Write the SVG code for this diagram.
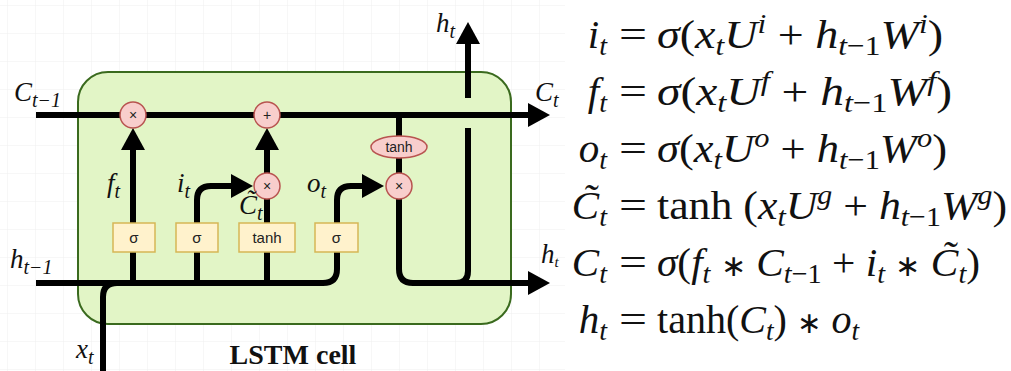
<svg xmlns="http://www.w3.org/2000/svg" width="1011" height="371" viewBox="0 0 1011 371">
<style>
.ln{fill:none;stroke:#000;stroke-width:6;stroke-linejoin:round}
.op{fill:#f8cecc;stroke:#b85450;stroke-width:1.5}
.gate{fill:#fff2cc;stroke:#d6b656;stroke-width:1.5}
.sm{font-family:"Liberation Sans",Arial,sans-serif;font-size:14px;fill:#222;text-anchor:middle}
.gt{font-family:"Liberation Sans",Arial,sans-serif;font-size:15px;fill:#222;text-anchor:middle}
.lab{font-family:"Liberation Serif","Times New Roman",serif;font-style:italic;font-size:27px;fill:#111}
.eq{font-family:"Liberation Serif","Times New Roman",serif;font-size:41px;fill:#111}
.i{font-style:italic}
.s{font-size:28px}
.a{font-size:30px}
</style>
<defs>
<pattern id="grid" width="28" height="28" patternUnits="userSpaceOnUse" x="8" y="6">
<path d="M28,0 V28 M0,28 H28" fill="none" stroke="#efefef" stroke-width="1"/>
</pattern>
<marker id="ah" viewBox="0 0 22 24" refX="0" refY="12" markerWidth="22" markerHeight="24" markerUnits="userSpaceOnUse" orient="auto">
<path d="M0,0 L22,12 L0,24 Z" fill="#000"/>
</marker>
</defs>
<rect width="1011" height="371" fill="#fff"/>
<rect width="565" height="371" fill="url(#grid)"/>
<g id="cell">
<rect x="78" y="72" width="433" height="252" rx="30" fill="#e2f5c6" stroke="#3a6a1e" stroke-width="2"/>
</g>
<g id="connectors">
<path class="ln" d="M36,115 H528" marker-end="url(#ah)"/>
<path class="ln" d="M36,283 H323 Q337,283 337,269 V200 Q337,186 351,186 H362" marker-end="url(#ah)"/>
<path class="ln" d="M103,371 V297 Q103,283 117,283"/>
<path class="ln" d="M133,283 V150" marker-end="url(#ah)"/>
<path class="ln" d="M197,283 V200 Q197,186 211,186 H231" marker-end="url(#ah)"/>
<path class="ln" d="M267,283 V199"/>
<path class="ln" d="M267,173 V150" marker-end="url(#ah)"/>
<path class="ln" d="M399,115 V136"/>
<path class="ln" d="M399,158 V174"/>
<path class="ln" d="M399,199 V269 Q399,283 413,283 H528" marker-end="url(#ah)"/>
<path class="ln" d="M456,283 Q468,283 468,271 V128"/>
<path class="ln" d="M468,98 V44" marker-end="url(#ah)"/>
</g>
<g id="forget-mult"><circle class="op" cx="133" cy="115" r="13"/><text class="sm" x="133" y="120">×</text></g>
<g id="add"><circle class="op" cx="267" cy="115" r="13"/><text class="sm" x="267" y="120">+</text></g>
<g id="input-mult"><circle class="op" cx="267" cy="186" r="13"/><text class="sm" x="267" y="191">×</text></g>
<g id="output-mult"><circle class="op" cx="399" cy="186" r="13"/><text class="sm" x="399" y="191">×</text></g>
<g id="cell-tanh"><ellipse class="op" cx="399" cy="147" rx="28" ry="11"/><text class="sm" x="399" y="152">tanh</text></g>
<g id="forget-gate"><rect class="gate" x="113" y="223" width="42" height="29"/><text class="gt" x="134" y="243">σ</text></g>
<g id="input-gate"><rect class="gate" x="176" y="223" width="42" height="29"/><text class="gt" x="197" y="243">σ</text></g>
<g id="candidate"><rect class="gate" x="239" y="223" width="56" height="29"/><text class="gt" x="267" y="243">tanh</text></g>
<g id="output-gate"><rect class="gate" x="315" y="223" width="43" height="29"/><text class="gt" x="336.5" y="243">σ</text></g>
<g id="labels">
<text class="lab" x="14" y="101">C<tspan font-size="20" dy="6">t−1</tspan></text>
<text class="lab" x="535" y="101">C<tspan font-size="20" dy="6">t</tspan></text>
<text class="lab" x="10" y="268">h<tspan font-size="20" dy="6">t−1</tspan></text>
<text class="lab" x="541" y="263" font-size="20">h<tspan font-size="15" dy="4">t</tspan></text>
<text class="lab" x="436" y="32">h<tspan font-size="20" dy="6">t</tspan></text>
<text class="lab" x="76" y="358">x<tspan font-size="20" dy="6">t</tspan></text>
<text class="lab" x="107" y="192">f<tspan font-size="20" dy="6">t</tspan></text>
<text class="lab" x="177" y="192">i<tspan font-size="20" dy="6">t</tspan></text>
<text class="lab" x="307" y="192">o<tspan font-size="20" dy="6">t</tspan></text>
<text class="lab" x="239" y="214">C̃<tspan font-size="20" dy="6">t</tspan></text>
<text x="293" y="364" font-family="Liberation Serif,Times New Roman,serif" font-weight="bold" font-size="28" text-anchor="middle" fill="#111">LSTM cell</text>
</g>
<g id="equations">
<rect x="566" y="0" width="445" height="371" fill="#fff"/>
<text class="eq" x="607" y="48" text-anchor="end"><tspan class="i">i</tspan><tspan class="i s" dy="7">t</tspan></text>
<text class="eq" x="619" y="48" textLength="28" lengthAdjust="spacingAndGlyphs">=</text>
<text class="eq" x="657" y="48" textLength="286" lengthAdjust="spacingAndGlyphs"><tspan class="i">σ</tspan>(<tspan class="i">x</tspan><tspan class="i s" dy="7">t</tspan><tspan class="i" dy="-7">U</tspan><tspan class="i s" dy="-15">i</tspan><tspan dy="15"> + </tspan><tspan class="i">h</tspan><tspan class="s" dy="7"><tspan class="i">t</tspan>−1</tspan><tspan class="i" dy="-7">W</tspan><tspan class="i s" dy="-15">i</tspan><tspan dy="15">)</tspan></text>

<text class="eq" x="607" y="105" text-anchor="end"><tspan class="i">f</tspan><tspan class="i s" dy="7">t</tspan></text>
<text class="eq" x="619" y="105" textLength="28" lengthAdjust="spacingAndGlyphs">=</text>
<text class="eq" x="657" y="105" textLength="295" lengthAdjust="spacingAndGlyphs"><tspan class="i">σ</tspan>(<tspan class="i">x</tspan><tspan class="i s" dy="7">t</tspan><tspan class="i" dy="-7">U</tspan><tspan class="i s" dy="-15">f</tspan><tspan dy="15"> + </tspan><tspan class="i">h</tspan><tspan class="s" dy="7"><tspan class="i">t</tspan>−1</tspan><tspan class="i" dy="-7">W</tspan><tspan class="i s" dy="-15">f</tspan><tspan dy="15">)</tspan></text>

<text class="eq" x="607" y="162" text-anchor="end"><tspan class="i">o</tspan><tspan class="i s" dy="7">t</tspan></text>
<text class="eq" x="619" y="162" textLength="28" lengthAdjust="spacingAndGlyphs">=</text>
<text class="eq" x="657" y="162" textLength="290" lengthAdjust="spacingAndGlyphs"><tspan class="i">σ</tspan>(<tspan class="i">x</tspan><tspan class="i s" dy="7">t</tspan><tspan class="i" dy="-7">U</tspan><tspan class="i s" dy="-15">o</tspan><tspan dy="15"> + </tspan><tspan class="i">h</tspan><tspan class="s" dy="7"><tspan class="i">t</tspan>−1</tspan><tspan class="i" dy="-7">W</tspan><tspan class="i s" dy="-15">o</tspan><tspan dy="15">)</tspan></text>

<text class="eq" x="607" y="219" text-anchor="end"><tspan class="i">C̃</tspan><tspan class="i s" dy="7">t</tspan></text>
<text class="eq" x="619" y="219" textLength="28" lengthAdjust="spacingAndGlyphs">=</text>
<text class="eq" x="657" y="219" textLength="350" lengthAdjust="spacingAndGlyphs">tanh (<tspan class="i">x</tspan><tspan class="i s" dy="7">t</tspan><tspan class="i" dy="-7">U</tspan><tspan class="i s" dy="-15">g</tspan><tspan dy="15"> + </tspan><tspan class="i">h</tspan><tspan class="s" dy="7"><tspan class="i">t</tspan>−1</tspan><tspan class="i" dy="-7">W</tspan><tspan class="i s" dy="-15">g</tspan><tspan dy="15">)</tspan></text>

<text class="eq" x="607" y="276" text-anchor="end"><tspan class="i">C</tspan><tspan class="i s" dy="7">t</tspan></text>
<text class="eq" x="619" y="276" textLength="28" lengthAdjust="spacingAndGlyphs">=</text>
<text class="eq" x="657" y="276" textLength="323" lengthAdjust="spacingAndGlyphs"><tspan class="i">σ</tspan>(<tspan class="i">f</tspan><tspan class="i s" dy="7">t</tspan><tspan dy="-7"> </tspan><tspan class="a">∗</tspan> <tspan class="i">C</tspan><tspan class="s" dy="7"><tspan class="i">t</tspan>−1</tspan><tspan dy="-7"> + </tspan><tspan class="i">i</tspan><tspan class="i s" dy="7">t</tspan><tspan dy="-7"> </tspan><tspan class="a">∗</tspan> <tspan class="i">C̃</tspan><tspan class="i s" dy="7">t</tspan><tspan dy="-7">)</tspan></text>

<text class="eq" x="607" y="333" text-anchor="end"><tspan class="i">h</tspan><tspan class="i s" dy="7">t</tspan></text>
<text class="eq" x="619" y="333" textLength="28" lengthAdjust="spacingAndGlyphs">=</text>
<text class="eq" x="657" y="333" font-size="39" textLength="202" lengthAdjust="spacingAndGlyphs">tanh(<tspan class="i">C</tspan><tspan class="i s" dy="7">t</tspan><tspan dy="-7">) </tspan><tspan class="a">∗</tspan> <tspan class="i">o</tspan><tspan class="i s" dy="7">t</tspan></text>
</g>
</svg>
